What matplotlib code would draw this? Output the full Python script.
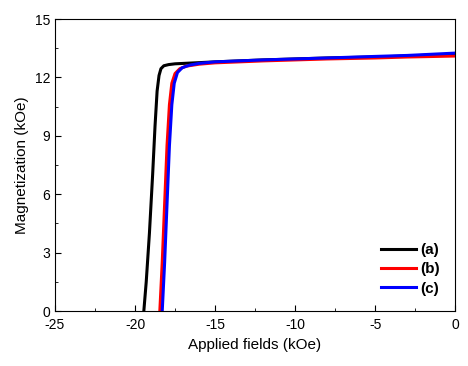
import matplotlib
matplotlib.use("Agg")
import matplotlib.pyplot as plt
from matplotlib.ticker import MultipleLocator

plt.rcParams['font.family'] = ['Liberation Sans', 'DejaVu Sans']
plt.rcParams['axes.unicode_minus'] = False

# (a) black curve
xa = [-19.45, -19.3, -19.1, -18.9, -18.75, -18.62, -18.5, -18.38, -18.2, -17.9,
      -17.5, -17.0, -15.0, -12.0, -10.0, -8.0, -5.0, -3.0, 0.0]
ya = [0.0, 1.5, 4.0, 7.0, 9.5, 11.3, 12.1, 12.45, 12.6, 12.66,
      12.7, 12.72, 12.8, 12.9, 12.95, 13.0, 13.05, 13.1, 13.2]

# (b) red curve
xb = [-18.45, -18.3, -18.15, -18.0, -17.85, -17.7, -17.5, -17.2, -16.8, -16.0,
      -15.0, -12.0, -10.0, -8.0, -5.0, -3.0, 0.0]
yb = [0.0, 2.5, 5.5, 8.5, 10.6, 11.7, 12.2, 12.45, 12.58, 12.68,
      12.75, 12.85, 12.9, 12.95, 13.0, 13.05, 13.1]

# (c) blue curve
xc = [-18.3, -18.15, -18.0, -17.85, -17.7, -17.55, -17.35, -17.05, -16.6, -16.0,
      -15.0, -12.0, -10.0, -8.0, -5.0, -3.0, 0.0]
yc = [0.0, 2.5, 5.5, 8.5, 10.6, 11.7, 12.25, 12.5, 12.63, 12.72,
      12.8, 12.9, 12.95, 13.0, 13.08, 13.13, 13.25]

labels = ['(a)', '(b)', '(c)']
colors = ['black', 'red', 'blue']

fig = plt.figure(figsize=(4.68, 3.66), dpi=100)
ax = fig.add_axes([0.1175, 0.15, 0.855, 0.798])

for x, y, lab, c in zip([xa, xb, xc], [ya, yb, yc], labels, colors):
    ax.plot(x, y, color=c, lw=2.2, label=lab)

ax.set_xlim(-25, 0)
ax.set_ylim(0, 15)
ax.xaxis.set_major_locator(MultipleLocator(5))
ax.xaxis.set_minor_locator(MultipleLocator(2.5))
ax.yaxis.set_major_locator(MultipleLocator(3))
ax.yaxis.set_minor_locator(MultipleLocator(1.5))
ax.tick_params(which='both', direction='in', labelsize=10)
ax.tick_params(which='major', length=4)
ax.tick_params(which='minor', length=2.5)
ax.tick_params(axis='x', pad=5)
for s in ax.spines.values():
    s.set_linewidth(0.8)

ax.set_xlabel('Applied fields (kOe)', fontsize=11)
ax.set_ylabel('Magnetization (kOe)', fontsize=11)

leg = ax.legend(loc='lower right', frameon=False, fontsize=11, handlelength=2.3,
                handletextpad=0.3, labelspacing=0.35, borderaxespad=0.6)
for t in leg.get_texts():
    t.set_fontweight('bold')

fig.savefig('out.png', dpi=100)
